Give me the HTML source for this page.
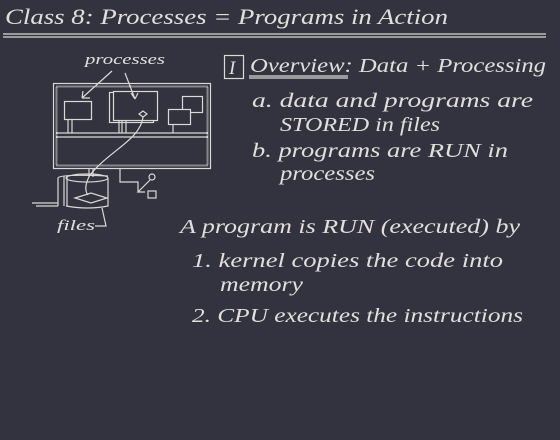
<!DOCTYPE html>
<html><head><meta charset="utf-8"><style>
html,body{margin:0;padding:0;background:#32333e;}
svg{display:block}
text{font-family:"Liberation Serif",serif;font-style:italic;fill:#e2dfda;stroke:none;}
</style></head><body>
<svg width="560" height="440" viewBox="0 0 560 440" xmlns="http://www.w3.org/2000/svg">
<rect width="560" height="440" fill="#32333e"/>
<g fill="none" stroke="#dcd9d4" stroke-width="1.2">
<text x="5" y="24" font-size="22" textLength="443" lengthAdjust="spacingAndGlyphs">Class 8: Processes = Programs in Action</text>
<line x1="3" y1="34" x2="546" y2="34"/><line x1="3" y1="37" x2="546" y2="37"/>
<rect x="224.5" y="55.5" width="19" height="23"/>
<text x="229" y="74" font-size="19">I</text>
<text x="250" y="72" font-size="20" textLength="296" lengthAdjust="spacingAndGlyphs">Overview: Data + Processing</text>
<line x1="249" y1="76" x2="348" y2="76"/><line x1="249" y1="78" x2="348" y2="78"/>
<text x="252" y="107" font-size="20" textLength="281" lengthAdjust="spacingAndGlyphs">a. data and programs are</text>
<text x="280" y="131" font-size="20" textLength="160" lengthAdjust="spacingAndGlyphs">STORED in files</text>
<text x="252" y="157" font-size="20" textLength="256" lengthAdjust="spacingAndGlyphs">b.  programs are RUN  in</text>
<text x="280" y="180" font-size="20" textLength="95" lengthAdjust="spacingAndGlyphs">processes</text>
<text x="180" y="233" font-size="20" textLength="340" lengthAdjust="spacingAndGlyphs">A program is RUN  (executed) by</text>
<text x="192" y="267" font-size="20" textLength="311" lengthAdjust="spacingAndGlyphs">1. kernel copies the code into</text>
<text x="220" y="291" font-size="20" textLength="83" lengthAdjust="spacingAndGlyphs">memory</text>
<text x="192" y="322" font-size="20" textLength="331" lengthAdjust="spacingAndGlyphs">2. CPU executes the instructions</text>

<text x="85" y="64" font-size="15" textLength="80" lengthAdjust="spacingAndGlyphs">processes</text>
<rect x="53.5" y="83.5" width="157" height="85"/>
<rect x="56.5" y="86.5" width="151" height="79" stroke-width="2" stroke-dasharray="1 1"/>
<line x1="56" y1="133" x2="208" y2="133"/><line x1="56" y1="137" x2="208" y2="137"/>
<rect x="64.5" y="101.5" width="27" height="18"/>
<line x1="68" y1="119" x2="68" y2="133"/><line x1="72" y1="119" x2="72" y2="133"/>
<rect x="109.5" y="92.5" width="44" height="30"/>
<rect x="113.5" y="91.5" width="44" height="29" fill="#32333e"/>
<line x1="119" y1="121" x2="119" y2="133"/><line x1="122" y1="121" x2="122" y2="133"/><line x1="126" y1="121" x2="126" y2="133"/>
<rect x="182.5" y="96.5" width="20" height="16"/>
<rect x="168.5" y="109.5" width="22" height="15" fill="#32333e"/>
<line x1="173" y1="124" x2="173" y2="133"/>
<path d="M112 71 L82 98 M82 98 L90 98 M82 98 L83 91"/>
<path d="M125 73 L135 99 M135 99 L131 93 M135 99 L138 93"/>
<path d="M143 111 L139 114 L143 117 L147 114 Z"/>
<path d="M143 117 C140 140 110 150 90 175 C86 182 84 190 88 195"/>
<line x1="89" y1="168" x2="89" y2="177"/><line x1="93" y1="168" x2="93" y2="177"/>
<path d="M58 178 L58 206 M64 176 L64 206 M67 176 L67 206 M58 178 Q60 174 108 176"/>
<ellipse cx="87" cy="178" rx="21" ry="4"/>
<path d="M108 178 L108 206 Q88 210 66 206"/>
<path d="M75 198 L91 193 L107 198 L91 203 Z"/>
<path d="M32 203 L58 203 M36 206 L58 206"/>
<path d="M120 168 L120 182 L138 182 L138 192 M145 192 L138 192 L150 180"/>
<circle cx="152" cy="177" r="3"/><rect x="148" y="191" width="8" height="7"/>
<text x="57" y="230" font-size="15" textLength="38" lengthAdjust="spacingAndGlyphs">files</text>
<path d="M95 226 L106 226 L102 208"/>
</g>
</svg>
</body></html>
